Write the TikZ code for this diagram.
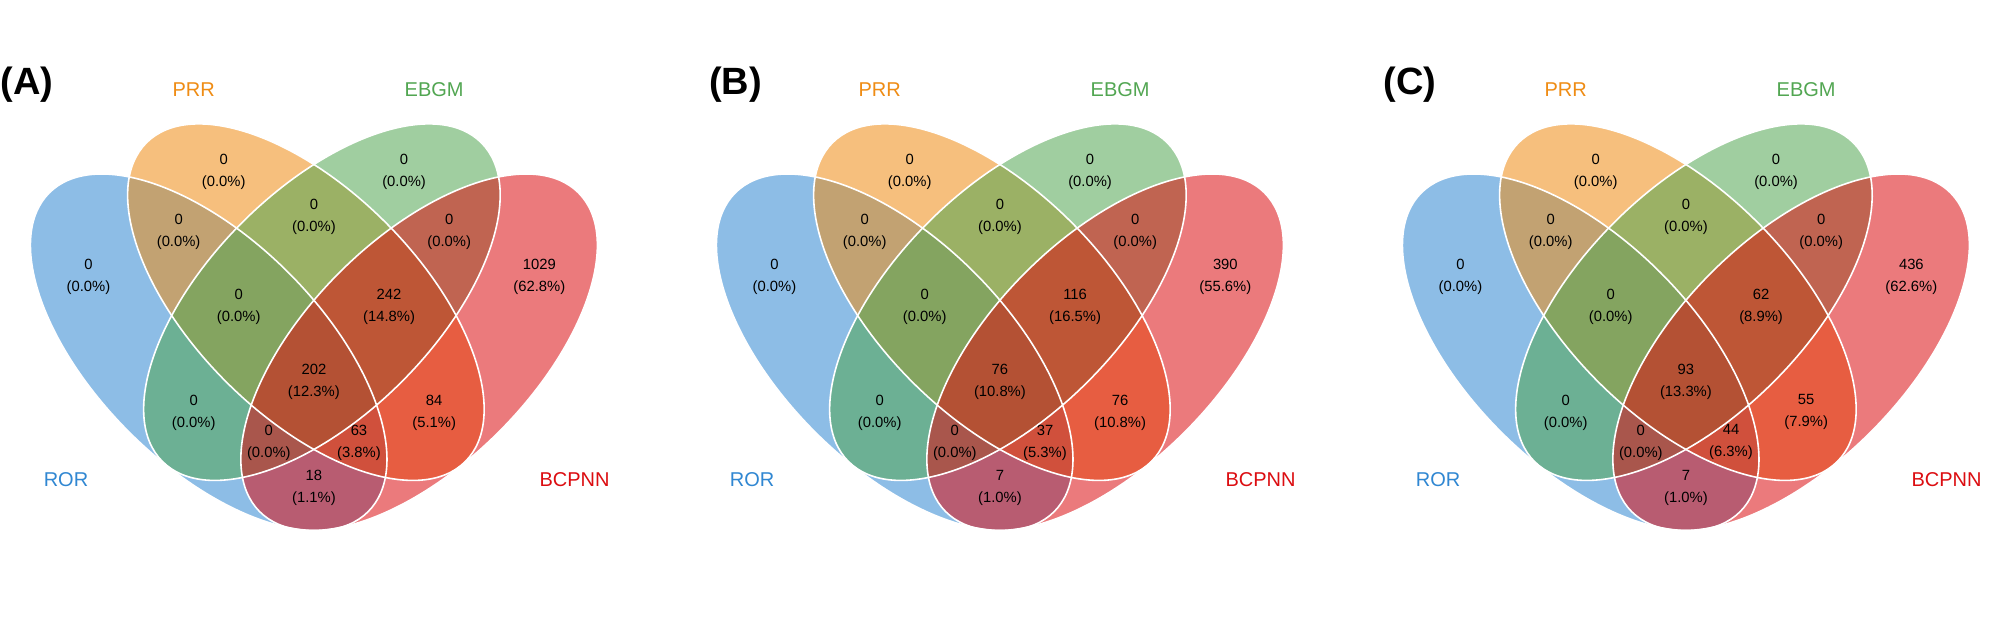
\documentclass[tikz,border=0pt]{standalone}
\usepackage{fontspec}
\setmainfont{Liberation Sans}
\definecolor{cA}{RGB}{48,135,210}
\definecolor{cB}{RGB}{239,140,20}
\definecolor{cC}{RGB}{82,166,82}
\definecolor{cD}{RGB}{220,13,17}
\tikzset{
  setfill/.style={fill=#1, fill opacity=0.55, draw=none},
  setline/.style={draw=white, line width=1.6pt},
  cnt/.style={align=center, font=\fontsize{14.8}{22}\selectfont, text=black, inner sep=0pt},
  setname/.style={font=\fontsize{20}{24}\selectfont, text=#1, inner sep=0pt},
  panellabel/.style={font=\fontsize{38}{44}\selectfont\bfseries, text=black, inner sep=0pt},
  ellA/.style={rotate around={45:(-0.7,-0.5)}},
  ellB/.style={rotate around={45:(-0.05333,-0.16667)}},
  ellC/.style={rotate around={-45:(0.05333,-0.16667)}},
  ellD/.style={rotate around={-45:(0.7,-0.5)}},
}
\newcommand\ZeroLab{0\\(0.0\%)}
% #1 prefix, #2 x of centre, #3 D, #4 BD, #5 AD, #6 BCD, #7 ABD, #8 ABCD
\newcommand\VennPanel[8]{%
  \begin{scope}[shift={(#2pt,349.9pt)}, x=150.3pt, y=150.3pt]
    \path[setfill=cA, ellA] (-0.7,-0.5) ellipse [x radius=0.75, y radius=1.5];
    \path[setfill=cB, ellB] (-0.05333,-0.16667) ellipse [x radius=0.75, y radius=1.5];
    \path[setfill=cC, ellC] (0.05333,-0.16667) ellipse [x radius=0.75, y radius=1.5];
    \path[setfill=cD, ellD] (0.7,-0.5) ellipse [x radius=0.75, y radius=1.5];
    \draw[setline, ellA] (-0.7,-0.5) ellipse [x radius=0.75, y radius=1.5];
    \draw[setline, ellB] (-0.05333,-0.16667) ellipse [x radius=0.75, y radius=1.5];
    \draw[setline, ellC] (0.05333,-0.16667) ellipse [x radius=0.75, y radius=1.5];
    \draw[setline, ellD] (0.7,-0.5) ellipse [x radius=0.75, y radius=1.5];
    \node[cnt] (#1A) at (-1.5,0) {\ZeroLab};
    \node[cnt] (#1B) at (-0.6,0.7) {\ZeroLab};
    \node[cnt] (#1C) at (0.6,0.7) {\ZeroLab};
    \node[cnt] (#1D) at (1.5,0) {#3};
    \node[cnt] (#1AB) at (-0.9,0.3) {\ZeroLab};
    \node[cnt] (#1BC) at (0,0.4) {\ZeroLab};
    \node[cnt] (#1CD) at (0.9,0.3) {\ZeroLab};
    \node[cnt] (#1AC) at (-0.8,-0.9) {\ZeroLab};
    \node[cnt] (#1BD) at (0.8,-0.9) {#4};
    \node[cnt] (#1AD) at (0,-1.4) {#5};
    \node[cnt] (#1ABC) at (-0.5,-0.2) {\ZeroLab};
    \node[cnt] (#1BCD) at (0.5,-0.2) {#6};
    \node[cnt] (#1ACD) at (-0.3,-1.1) {\ZeroLab};
    \node[cnt] (#1ABD) at (0.3,-1.1) {#7};
    \node[cnt] (#1ABCD) at (0,-0.7) {#8};
    \node[setname=cA, anchor=north east] (#1nA) at (-1.5,-1.3) {ROR};
    \node[setname=cB, anchor=south] (#1nB) at (-0.8,1.2) {PRR};
    \node[setname=cC, anchor=south] (#1nC) at (0.8,1.2) {EBGM};
    \node[setname=cD, anchor=north west] (#1nD) at (1.5,-1.3) {BCPNN};
  \end{scope}%
}
\begin{document}
\begin{tikzpicture}[x=1pt,y=1pt]
  \fill[white] (0,0) rectangle (2000,627);
  \useasboundingbox (0,0) rectangle (2000,627);
  \VennPanel{a}{313.9}{1029\\(62.8\%)}{84\\(5.1\%)}{18\\(1.1\%)}{242\\(14.8\%)}{63\\(3.8\%)}{202\\(12.3\%)}
  \VennPanel{b}{999.9}{390\\(55.6\%)}{76\\(10.8\%)}{7\\(1.0\%)}{116\\(16.5\%)}{37\\(5.3\%)}{76\\(10.8\%)}
  \VennPanel{c}{1685.9}{436\\(62.6\%)}{55\\(7.9\%)}{7\\(1.0\%)}{62\\(8.9\%)}{44\\(6.3\%)}{93\\(13.3\%)}
  \node[panellabel] (labA) at (27,542) {(A)};
  \node[panellabel] (labB) at (735.5,542) {(B)};
  \node[panellabel] (labC) at (1410,542) {(C)};
\end{tikzpicture}
\end{document}
